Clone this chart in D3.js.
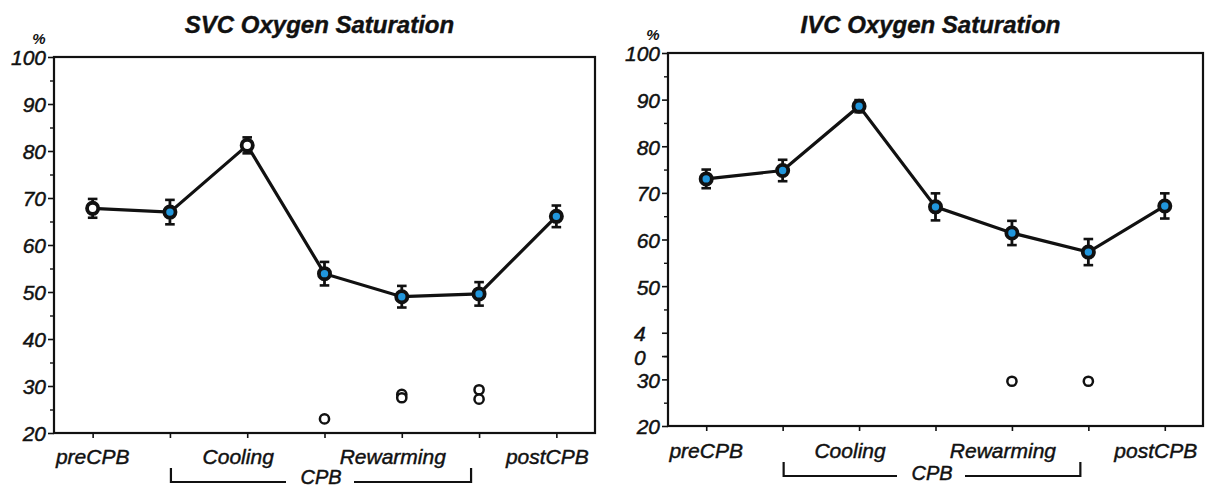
<!DOCTYPE html>
<html>
<head>
<meta charset="utf-8">
<script src="https://cdn.jsdelivr.net/npm/d3@7"></script>
<style>
  html, body { margin: 0; padding: 0; background: #fff; }
  svg { display: block; }
  text { font-family: "Liberation Sans", Arial, Helvetica, sans-serif; fill: #111; }
</style>
</head>
<body>
<svg id="chart" width="1207" height="490"></svg>
<script>
// Sampling times: pre-bypass, two cooling, three rewarming, post-bypass
const timePoints = [0, 1, 2, 3, 4, 5, 6];
const stageLabels = ["preCPB", "Cooling", "Rewarming", "postCPB"];
const stageAt = [0, 2, 4, 6];

// SVC saturation (%), mean and SE
const svcMean = [67.8, 67.0, 81.2, 53.9, 49.0, 49.6, 66.1];
const svcSE = [2.0, 2.6, 1.7, 2.5, 2.3, 2.5, 2.3];
const svcHollow = [true, false, true, false, false, false, false];
const svcOutlierAt = [3, 4, 4, 5, 5];
const svcOutlierVal = [23.0, 28.2, 27.5, 29.2, 27.2];

// IVC saturation (%), mean and SE
const ivcMean = [73.0, 74.8, 88.6, 67.0, 61.4, 57.3, 67.2];
const ivcSE = [2.0, 2.3, 1.3, 2.9, 2.6, 2.8, 2.7];
const ivcHollow = [false, false, false, false, false, false, false];
const ivcOutlierAt = [4, 5];
const ivcOutlierVal = [29.6, 29.6];

// y-axis ticks and labels
const svcTickVals = [20, 30, 40, 50, 60, 70, 80, 90, 100];
const svcTickText = ["20", "30", "40", "50", "60", "70", "80", "90", "100"];
const ivcTickVals = [20, 30, 35, 40, 50, 60, 70, 80, 90, 100];
const ivcTickText = ["20", "30", "0", "4", "50", "60", "70", "80", "90", "100"];
const minorTickVals = [25, 35, 45, 55, 65, 75, 85, 95];

const BLUE = "#2196dc";
const INK = "#111";
const svg = d3.select("#chart");

// slightly heavier italic text, like the printed face
function inkText(sel, size) {
  return sel.attr("font-size", size).attr("font-style", "italic")
    .attr("fill", INK).attr("stroke", INK).attr("stroke-width", 0.45);
}

function drawPanel(cfg) {
  const g = svg.append("g");
  const x = d3.scalePoint().domain(timePoints).range([cfg.left, cfg.right]).padding(0.5);
  const y = d3.scaleLinear().domain([20, 100]).range([cfg.bottom, cfg.top]);

  // frame
  g.append("rect")
    .attr("x", cfg.left).attr("y", y(100))
    .attr("width", cfg.right - cfg.left).attr("height", y(20) - y(100))
    .attr("fill", "none").attr("stroke", INK).attr("stroke-width", 2.2);

  // y axis: major ticks with labels
  const labelOf = new Map(cfg.tickVals.map((v, i) => [v, cfg.tickText[i]]));
  const yAxis = g.append("g")
    .attr("transform", `translate(${cfg.left},0)`)
    .call(d3.axisLeft(y).tickValues(cfg.tickVals).tickSize(6).tickPadding(2)
      .tickFormat(v => labelOf.get(v)));
  yAxis.select(".domain").remove();
  yAxis.selectAll("line").attr("stroke", INK).attr("stroke-width", 1.6);
  inkText(yAxis.selectAll("text"), 21)
    .attr("font-family", "Liberation Sans, Arial, sans-serif")
    .attr("dy", "0.38em");
  // split "40" label sits as two characters stacked
  yAxis.selectAll(".tick").filter(v => labelOf.get(v) === "4" || labelOf.get(v) === "0")
    .select("text").attr("text-anchor", "start").attr("x", -34);

  // y axis: minor ticks
  const yMinor = g.append("g")
    .attr("transform", `translate(${cfg.left},0)`)
    .call(d3.axisLeft(y).tickValues(minorTickVals).tickSize(4).tickFormat(""));
  yMinor.select(".domain").remove();
  yMinor.selectAll("line").attr("stroke", INK).attr("stroke-width", 1.4);

  // x axis ticks under the frame
  const xAxis = g.append("g")
    .attr("transform", `translate(0,${y(20)})`)
    .call(d3.axisBottom(x).tickSize(5).tickFormat(""));
  xAxis.select(".domain").remove();
  xAxis.selectAll("line").attr("stroke", INK).attr("stroke-width", 1.6);

  // stage labels
  inkText(g.selectAll(".stage").data(stageLabels).join("text"), 21)
    .attr("class", "stage")
    .attr("x", (d, i) => x(stageAt[i]) + (i === 0 ? 0 : -9))
    .attr("y", y(20) + cfg.labelGap)
    .attr("text-anchor", "middle")
    .text(d => d);

  // CPB bracket
  const bx0 = x(1) + 1, bx1 = x(5) - 8, bmid = (bx0 + bx1) / 2;
  const bTop = y(20) + cfg.labelGap + 4, bBot = bTop + 14;
  g.append("path")
    .attr("d", `M${bx0},${bTop}V${bBot}H${bmid - 35}M${bmid + 33},${bBot}H${bx1}V${bTop}`)
    .attr("fill", "none").attr("stroke", INK).attr("stroke-width", 2.2);
  inkText(g.append("text"), 20)
    .attr("x", bmid).attr("y", Math.min(bBot + 4, 484))
    .attr("text-anchor", "middle")
    .text("CPB");

  // title and unit
  g.append("text")
    .attr("x", (cfg.left + cfg.right) / 2 - 5).attr("y", 33)
    .attr("text-anchor", "middle")
    .attr("font-size", 24).attr("font-weight", "bold").attr("font-style", "italic")
    .attr("stroke", INK).attr("stroke-width", 0.4)
    .text(cfg.title);
  g.append("text")
    .attr("x", cfg.left - 15).attr("y", y(100) - 13)
    .attr("text-anchor", "middle")
    .attr("font-size", 15).attr("font-weight", "bold").attr("font-style", "italic")
    .text("%");

  // connecting line
  g.append("path")
    .datum(timePoints)
    .attr("d", d3.line().x(i => x(i)).y(i => y(cfg.mean[i])))
    .attr("fill", "none").attr("stroke", INK).attr("stroke-width", 3.2);

  // error bars
  const eb = g.selectAll(".eb").data(timePoints).join("g").attr("class", "eb");
  eb.append("line")
    .attr("x1", i => x(i)).attr("x2", i => x(i))
    .attr("y1", i => y(cfg.mean[i] + cfg.se[i])).attr("y2", i => y(cfg.mean[i] - cfg.se[i]))
    .attr("stroke", INK).attr("stroke-width", 2.8);
  [1, -1].forEach(s => {
    eb.append("line")
      .attr("x1", i => x(i) - 4.8).attr("x2", i => x(i) + 4.8)
      .attr("y1", i => y(cfg.mean[i] + s * cfg.se[i])).attr("y2", i => y(cfg.mean[i] + s * cfg.se[i]))
      .attr("stroke", INK).attr("stroke-width", 2.6);
  });

  // mean markers
  g.selectAll(".mk").data(timePoints).join("circle")
    .attr("class", "mk")
    .attr("cx", i => x(i)).attr("cy", i => y(cfg.mean[i]))
    .attr("r", 5.6)
    .attr("fill", i => cfg.hollow[i] ? "#fff" : BLUE)
    .attr("stroke", INK).attr("stroke-width", 3.8);

  // individual outlying values
  g.selectAll(".out").data(cfg.outAt).join("circle")
    .attr("class", "out")
    .attr("cx", d => x(d)).attr("cy", (d, i) => y(cfg.outVal[i]))
    .attr("r", 4.6)
    .attr("fill", "#fff").attr("stroke", INK).attr("stroke-width", 2.5);
}

drawPanel({
  title: "SVC Oxygen Saturation",
  left: 54, right: 595, top: 57, bottom: 433, labelGap: 31,
  mean: svcMean, se: svcSE, hollow: svcHollow,
  outAt: svcOutlierAt, outVal: svcOutlierVal,
  tickVals: svcTickVals, tickText: svcTickText
});

drawPanel({
  title: "IVC Oxygen Saturation",
  left: 668, right: 1203, top: 53, bottom: 426, labelGap: 32,
  mean: ivcMean, se: ivcSE, hollow: ivcHollow,
  outAt: ivcOutlierAt, outVal: ivcOutlierVal,
  tickVals: ivcTickVals, tickText: ivcTickText
});
</script>
</body>
</html>
